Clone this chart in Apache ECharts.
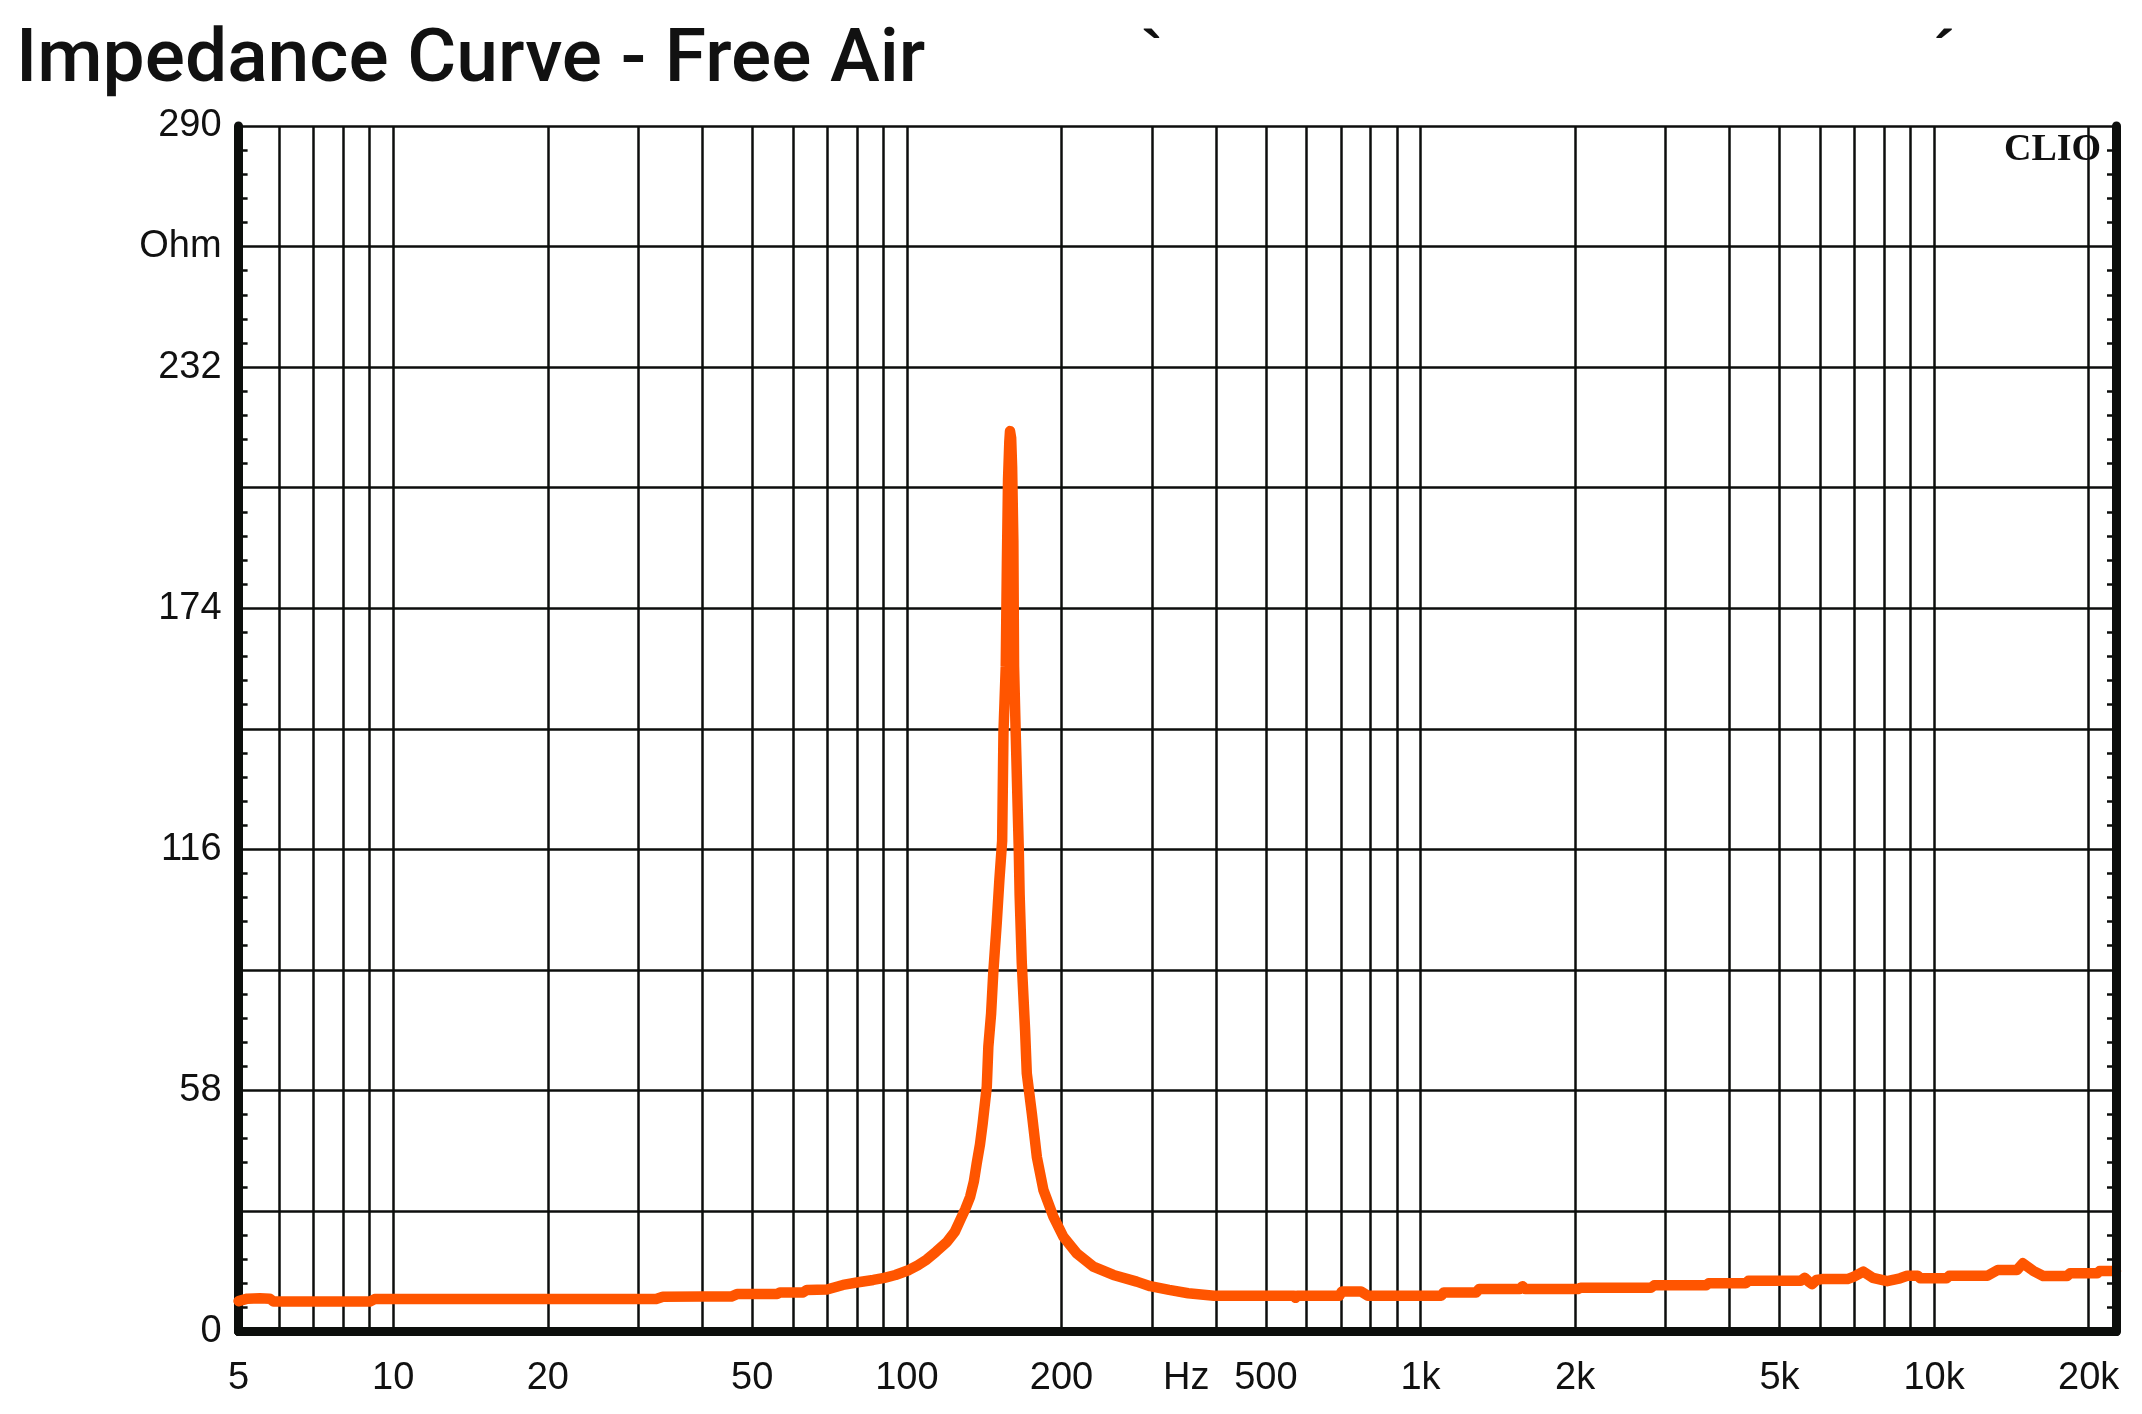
<!DOCTYPE html>
<html>
<head>
<meta charset="utf-8">
<script src="https://cdn.jsdelivr.net/npm/echarts@6/dist/echarts.min.js"></script>
<style>
html,body{margin:0;padding:0;background:#fff;}
#chart{width:2142px;height:1414px;}
</style>
</head>
<body>
<div id="chart"></div>
<script>
// ---- Data (frequency in Hz, impedance in Ohm) ----
const freqHz = [
  5.0, 5.2, 5.5, 5.75, 5.85, 7.0, 9.0, 9.2, 12, 15, 20, 25, 32.5, 33.5, 40, 45.5,
  46.7, 52, 55.9, 56.6, 62.8, 63.9, 69.9, 75.1, 81, 86, 90.4, 95, 101, 105,
  109.3, 114, 119.6, 124, 127, 130, 132.8, 135, 136.8, 138.8, 140.5, 143.1, 144.1,
  145.9, 147.3, 149.6, 151.4, 153.3, 154.2, 155.8, 156.6, 157.4, 158.3, 158.8,
  159.6, 160.3, 161.2, 161.7, 162.9, 165.1, 165.8, 167.4, 169.9, 171.2, 175.1,
  179.1, 184.5, 192.9, 201.7, 214.2, 230.7, 252.4, 280.3, 297.7, 324, 353, 396,
  568, 571, 575, 695, 703, 766, 790, 1098, 1110, 1284, 1300, 1560, 1580, 1600,
  2026, 2050, 2808, 2850, 3600, 3640, 4300, 4350, 5500, 5600, 5700, 5790, 5900,
  6050, 6780, 6980, 7280, 7600, 8100, 8584, 8860, 9300, 9400, 10570, 10700,
  12700, 13300, 14500, 14880, 15590, 16310, 18150, 18400, 20770, 21000, 22600
];
const impedanceOhm = [
  7.3, 7.9, 8.0, 7.9, 7.2, 7.2, 7.2, 7.8, 7.8, 7.8, 7.8, 7.8, 7.8, 8.35, 8.4, 8.4,
  9.0, 9.0, 9.0, 9.4, 9.4, 10.0, 10.1, 11.2, 11.9, 12.4, 12.9, 13.6, 14.8, 15.9,
  17.3, 19.2, 21.5, 24.0, 26.8, 29.5, 32.4, 36.0, 40.5, 45.0, 50.1, 58.9, 68.5,
  76.5, 86.2, 98.2, 108.6, 118, 144, 160, 185, 205, 214, 216.6,
  215, 208, 190, 160, 144, 116.8, 105, 88.6, 72.5, 62.1, 52.5,
  42.0, 34.0, 27.6, 22.8, 18.8, 15.6, 13.6, 12.0, 10.9, 10.0, 9.2, 8.6,
  8.6, 8.1, 8.6, 8.6, 9.6, 9.6, 8.6, 8.6, 9.4, 9.4, 10.2, 10.2, 10.9, 10.2,
  10.2, 10.5, 10.5, 11.1, 11.1, 11.6, 11.6, 12.2, 12.2, 12.9, 12.0, 11.4, 12.4,
  12.6, 12.6, 13.2, 14.4, 12.9, 12.1, 12.8, 13.4, 13.4, 12.8, 12.8, 13.4,
  13.4, 14.8, 14.8, 16.4, 14.6, 13.35, 13.35, 14.0, 14.0, 14.55, 14.55
];

// ---- Axis ticks / labels ----
const xMinHz = 5;
const xMaxHz = 22600;
const xGridHz = [
  6, 7, 8, 9, 10, 20, 30, 40, 50, 60, 70, 80, 90, 100, 200, 300, 400, 500, 600, 700,
  800, 900, 1000, 2000, 3000, 4000, 5000, 6000, 7000, 8000, 9000, 10000, 20000
];
const xLabelHz = [5, 10, 20, 50, 100, 200, 350, 500, 1000, 2000, 5000, 10000, 20000];
const xLabelText = ['5', '10', '20', '50', '100', '200', 'Hz', '500', '1k', '2k', '5k', '10k', '20k'];
const yMin = 0, yMax = 290, yStep = 29;
const yLabelValues = [0, 58, 116, 174, 232, 261, 290];
const yLabelText = ['0', '58', '116', '174', '232', 'Ohm', '290'];

const chart = echarts.init(document.getElementById('chart'), null, {renderer: 'canvas'});
const INK = '#0c0e0c';
const borderLine = {show: true, lineStyle: {color: INK, width: 9, cap: 'round'}};

function xLabelFmt(v) {
  for (let i = 0; i < xLabelHz.length; i++) {
    if (Math.abs(v - xLabelHz[i]) < 1e-6 * xLabelHz[i]) return xLabelText[i];
  }
  return '';
}
function yLabelFmt(v) {
  for (let i = 0; i < yLabelValues.length; i++) {
    if (Math.abs(v - yLabelValues[i]) < 1e-6) return yLabelText[i];
  }
  return '';
}

const option = {
  animation: false,
  backgroundColor: '#ffffff',
  grid: {left: 238.6, right: 26, top: 126, bottom: 82.5, containLabel: false},
  xAxis: [
    {
      type: 'log', logBase: 10, min: xMinHz, max: xMaxHz, position: 'bottom',
      axisLine: borderLine,
      axisTick: {show: false, customValues: xGridHz},
      splitLine: {show: true, lineStyle: {color: INK, width: 2.5}},
      minorTick: {show: false}, minorSplitLine: {show: false},
      axisLabel: {
        customValues: xLabelHz, formatter: xLabelFmt, margin: 28,
        fontFamily: 'Liberation Sans, Arial, sans-serif', fontSize: 38, color: '#111'
      }
    },
    {
      type: 'log', logBase: 10, min: xMinHz, max: xMaxHz, position: 'top',
      axisLine: borderLine, axisTick: {show: false}, axisLabel: {show: false},
      splitLine: {show: false}
    }
  ],
  yAxis: [
    {
      type: 'value', min: yMin, max: yMax, interval: yStep, position: 'left',
      axisLine: borderLine,
      axisTick: {show: false, inside: true},
      minorTick: {show: true, splitNumber: 5, length: 9, lineStyle: {color: INK, width: 2.5}},
      splitLine: {show: true, lineStyle: {color: INK, width: 2.5}},
      axisLabel: {
        formatter: yLabelFmt, margin: 17,
        fontFamily: 'Liberation Sans, Arial, sans-serif', fontSize: 38, color: '#111'
      }
    },
    {
      type: 'value', min: yMin, max: yMax, interval: yStep, position: 'right', z: 5,
      axisLine: borderLine,
      axisTick: {show: false, inside: true},
      minorTick: {show: true, splitNumber: 5, length: 9, lineStyle: {color: INK, width: 2.5}},
      splitLine: {show: false},
      axisLabel: {show: false}
    }
  ],
  series: [
    {
      type: 'line', xAxisIndex: 0, yAxisIndex: 0,
      data: freqHz.map((f, i) => [f, impedanceOhm[i]]),
      showSymbol: false, symbol: 'none', smooth: false,
      lineStyle: {color: '#ff5500', width: 10.5, join: 'round', cap: 'round'},
      z: 3
    }
  ],
  graphic: [
    {
      type: 'text', x: 16, y: 62, z: 10,
      style: {
        text: 'Impedance Curve - Free Air', fill: '#111',
        font: '500 75px Roboto, "Liberation Sans", sans-serif',
        align: 'left', verticalAlign: 'middle'
      }
    },
    {
      type: 'text', x: 2004, y: 150, z: 10,
      style: {
        text: 'CLIO', fill: '#111',
        font: 'bold 38px "Liberation Serif", "DejaVu Serif", serif',
        align: 'left', verticalAlign: 'middle'
      }
    },
    {
      type: 'text', x: 1152, y: 56, z: 10,
      style: {text: '`', fill: '#111', font: 'bold 62px "Liberation Sans", sans-serif', align: 'center', verticalAlign: 'middle'}
    },
    {
      type: 'text', x: 1944, y: 56, z: 10,
      style: {text: '\u00B4', fill: '#111', font: 'bold 62px "Liberation Sans", sans-serif', align: 'center', verticalAlign: 'middle'}
    }
  ]
};
chart.setOption(option);
</script>
</body>
</html>
